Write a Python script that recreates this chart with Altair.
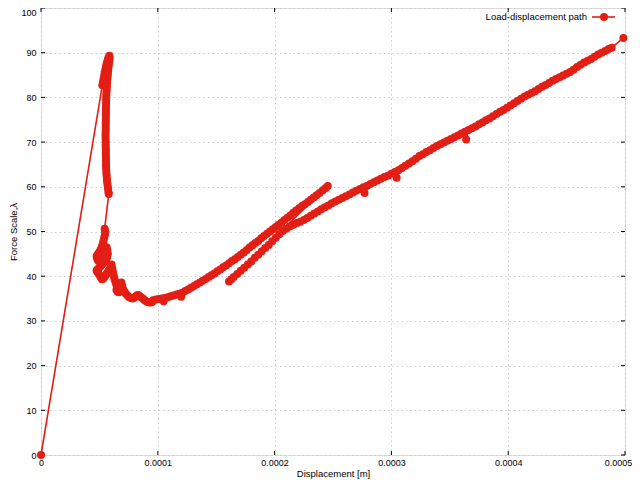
import altair as alt
import pandas as pd

# ---------------- data (displacement in micrometres, force scale) ----------------
x_ticks = [0, 0.0001, 0.0002, 0.0003, 0.0004, 0.0005]
y_ticks = [0, 10, 20, 30, 40, 50, 60, 70, 80, 90, 100]

origin_d = [0.0]
origin_f = [0.0]

column_d = [52.5, 53.0, 53.5, 54.0, 54.5, 55.0, 55.6, 56.2, 56.8, 57.4, 58.0, 58.6,
            58.8, 58.5, 58.2, 57.9, 57.6, 57.4, 57.2, 57.0, 56.8, 56.6, 56.4, 56.3,
            56.2, 56.0, 55.9, 55.8, 55.8, 55.7, 55.7, 55.6, 55.6, 55.5, 55.5, 55.5,
            55.4, 55.4, 55.4, 55.4, 55.3, 55.3, 55.3, 55.4, 55.4, 55.4, 55.5, 55.5,
            55.5, 55.6, 55.6, 55.7, 55.7, 55.8, 55.9, 56.0, 56.2, 56.4, 56.6, 56.9,
            57.2, 57.5, 57.8, 58.0]
column_f = [82.7, 83.4, 84.1, 84.8, 85.5, 86.2, 86.9, 87.5, 88.1, 88.6, 89.0, 89.3,
            88.8, 88.2, 87.6, 87.0, 86.4, 85.8, 85.2, 84.6, 84.0, 83.4, 82.8, 82.2,
            81.6, 81.0, 80.4, 79.8, 79.2, 78.6, 78.0, 77.4, 76.8, 76.2, 75.6, 75.0,
            74.4, 73.8, 73.2, 72.6, 72.0, 71.4, 70.8, 70.2, 69.6, 69.0, 68.4, 67.8,
            67.2, 66.6, 66.0, 65.4, 64.8, 64.2, 63.6, 63.0, 62.4, 61.8, 61.2, 60.6,
            60.0, 59.4, 58.8, 58.4]

cluster_d = [54.5, 55.0, 54.8, 54.3, 53.8, 53.2, 52.6, 52.0, 51.2, 50.4, 49.4, 48.4,
             47.6, 48.2, 49.2, 50.4, 51.6, 52.8, 54.0, 55.2, 56.2, 56.8, 57.2, 56.6,
             55.4, 54.0, 52.6, 51.2, 49.8, 48.4, 47.6, 48.6, 49.8, 51.0, 52.2, 53.4,
             54.6, 55.8, 57.0, 58.2, 59.4, 60.4, 61.0, 61.6, 62.2, 62.8, 63.6, 64.4,
             65.2, 64.6, 65.6, 66.8, 67.8, 68.6, 68.8, 69.6, 70.4, 71.6, 72.8, 74.2,
             75.6, 77.0, 78.4, 79.8, 81.2, 82.6, 83.8, 85.2, 86.6, 88.0, 89.4, 90.8,
             92.2, 93.6, 95.0]
cluster_f = [50.6, 50.0, 49.4, 48.8, 48.2, 47.6, 47.0, 46.5, 46.0, 45.6, 45.2, 44.8,
             44.4, 43.8, 43.4, 43.8, 44.3, 44.9, 45.5, 46.1, 46.5, 45.8, 45.0, 44.2,
             43.6, 43.1, 42.7, 42.3, 41.9, 41.5, 41.2, 40.8, 40.4, 39.8, 39.3, 39.5,
             39.9, 40.4, 40.9, 41.4, 42.0, 42.6, 41.8, 41.0, 40.2, 39.5, 38.8, 38.2,
             37.6, 36.9, 36.5, 36.4, 36.8, 37.6, 38.6, 37.8, 37.0, 36.5, 36.0, 35.6,
             35.3, 35.1, 35.0, 35.2, 35.5, 35.8, 35.7, 35.4, 35.1, 34.8, 34.5, 34.3,
             34.2, 34.1, 34.2]

upper_d = [96, 98.5, 101, 103.5, 105, 106, 108.5, 111, 113.5, 116, 118.5, 120, 121,
           123.5, 126, 128.5, 131, 133.5, 136, 138.5, 141, 143.5, 146, 148.5, 151,
           153.5, 156, 158.5, 161, 163.5, 166, 168.5, 171, 173.5, 176, 178.5, 181,
           183.5, 186, 188.5, 191, 193.5, 196, 198.5, 201, 203.5, 206, 208.5, 211,
           213.5, 216, 218.5, 221, 223.5, 226, 228.5, 231, 233.5, 236, 238.5, 241,
           243.5, 245.5]
upper_f = [34.6, 34.8, 34.9, 35.0, 34.4, 35.1, 35.3, 35.5, 35.7, 35.9, 36.1, 35.4,
           36.3, 36.7, 37.0, 37.4, 37.8, 38.2, 38.6, 39.0, 39.4, 39.8, 40.2, 40.6,
           41.1, 41.5, 42.0, 42.4, 42.9, 43.4, 43.8, 44.3, 44.8, 45.3, 45.8, 46.4,
           46.9, 47.4, 47.9, 48.5, 49.0, 49.5, 50.0, 50.5, 51.0, 51.5, 52.0, 52.6,
           53.1, 53.6, 54.2, 54.7, 55.2, 55.7, 56.1, 56.6, 57.1, 57.6, 58.1, 58.6,
           59.2, 59.7, 60.2]

lower_d = [161, 163, 165, 168, 171, 174, 177, 180, 183, 186, 189, 192, 195, 198, 201,
           204, 207, 210, 213, 216, 219, 222, 225, 228, 231, 234, 237, 240, 243, 246,
           249, 252, 255, 258, 261, 264, 267, 270, 273, 276, 277, 279, 282, 285, 288,
           291, 294, 297, 300, 303, 304.5, 306, 309, 312, 315, 318, 321, 324, 327,
           330, 333, 336, 339, 342, 345, 348, 351, 354, 357, 360, 363, 364, 366, 369,
           372, 375, 378, 381, 384, 387, 390, 393, 396, 399, 402, 405, 408, 411, 414,
           417, 420, 423, 426, 429, 432, 435, 438, 441, 444, 447, 450, 453, 456, 459,
           462, 465, 468, 471, 474, 477, 480, 483, 486, 488.6, 498.6]
lower_f = [38.8, 39.3, 39.8, 40.5, 41.2, 41.9, 42.6, 43.3, 44.1, 44.8, 45.6, 46.3,
           47.0, 47.8, 48.6, 49.4, 50.1, 50.6, 51.1, 51.5, 51.9, 52.2, 52.6, 53.0,
           53.5, 54.0, 54.5, 55.0, 55.4, 55.8, 56.3, 56.7, 57.1, 57.5, 57.9, 58.3,
           58.7, 59.1, 59.5, 59.9, 58.6, 60.2, 60.6, 61.0, 61.4, 61.8, 62.2, 62.5,
           62.9, 63.3, 62.0, 63.7, 64.2, 64.7, 65.2, 65.7, 66.3, 66.9, 67.3, 67.8,
           68.2, 68.7, 69.1, 69.5, 69.9, 70.3, 70.7, 71.1, 71.5, 71.9, 72.3, 70.6,
           72.7, 73.1, 73.5, 74.0, 74.4, 74.9, 75.3, 75.8, 76.3, 76.8, 77.2, 77.7,
           78.2, 78.7, 79.2, 79.7, 80.2, 80.6, 81.0, 81.4, 81.9, 82.4, 82.8, 83.2,
           83.7, 84.1, 84.5, 84.9, 85.3, 85.7, 86.2, 86.8, 87.3, 87.8, 88.2, 88.6,
           89.1, 89.6, 90.0, 90.4, 90.8, 91.1, 93.3]

legend_label = "Load-displacement path"
RED = "#e31e14"

# ---------------- build table ----------------
disp_um = origin_d + column_d + cluster_d + upper_d + lower_d
force = origin_f + column_f + cluster_f + upper_f + lower_f
df = pd.DataFrame({
    "step": list(range(len(disp_um))),
    "disp": [d * 1e-6 for d in disp_um],
    "force": force,
})
xt = pd.DataFrame({"v": x_ticks})
yt = pd.DataFrame({"v": y_ticks})

W, H = 584, 447
FONT = "Liberation Sans"
TL = 4  # tick length
GRID = "#cdcdcd"

xs = alt.Scale(domain=[0, 0.0005], nice=False, zero=False)
ys = alt.Scale(domain=[0, 100], nice=False, zero=False)

xaxis = alt.Axis(values=x_ticks, format="~g", title="Displacement [m]", grid=True,
                 ticks=False, domain=False, labelPadding=3, labelFontSize=9,
                 titleFontSize=9.5, titleFontWeight="normal", titlePadding=1,
                 labelFont=FONT, titleFont=FONT, labelColor="black", titleColor="black",
                 gridColor=GRID, gridDash=[1.5, 3], gridWidth=1, labelFlush=False,
                 labelOffset={"condition": {"test": "datum.value > 0.00049", "value": -7},
                              "value": 0})
yaxis = alt.Axis(values=y_ticks, title="Force Scale,λ", grid=True, ticks=False,
                 domain=False, labelPadding=5, labelFontSize=9, titleFontSize=9.5,
                 titleFontWeight="normal", labelFont=FONT, titleFont=FONT,
                 labelColor="black", titleColor="black", gridColor=GRID,
                 gridDash=[1.5, 3], gridWidth=1, titleX=-33, titleBaseline="top",
                 labelFlush=False,
                 labelOffset={"condition": {"test": "datum.value > 99", "value": 4},
                              "value": 0})

base = alt.Chart(df)
path_line = base.mark_line(color=RED, strokeWidth=1.6).encode(
    x=alt.X("disp:Q", scale=xs, axis=xaxis),
    y=alt.Y("force:Q", scale=ys, axis=yaxis),
    order="step:Q",
)
path_pts = base.mark_circle(color=RED, size=64, opacity=1).encode(
    x=alt.X("disp:Q", scale=xs),
    y=alt.Y("force:Q", scale=ys),
)

tick_style = dict(color="black", strokeWidth=1)
xt_bottom = alt.Chart(xt).mark_rule(**tick_style).encode(
    x=alt.X("v:Q", scale=xs), y=alt.value(H), y2=alt.value(H - TL))
xt_top = alt.Chart(xt).mark_rule(**tick_style).encode(
    x=alt.X("v:Q", scale=xs), y=alt.value(0), y2=alt.value(TL))
yt_left = alt.Chart(yt).mark_rule(**tick_style).encode(
    y=alt.Y("v:Q", scale=ys), x=alt.value(0), x2=alt.value(TL))
yt_right = alt.Chart(yt).mark_rule(**tick_style).encode(
    y=alt.Y("v:Q", scale=ys), x=alt.value(W), x2=alt.value(W - TL))

leg_df = pd.DataFrame({"label": [legend_label]})
leg_text = alt.Chart(leg_df).mark_text(align="right", baseline="middle", fontSize=9.5,
                                       font=FONT, color="black").encode(
    text="label:N", x=alt.value(W - 38), y=alt.value(9))
leg_line = alt.Chart(leg_df).mark_rule(color=RED, strokeWidth=1.6).encode(
    x=alt.value(W - 33), x2=alt.value(W - 10), y=alt.value(9))
leg_pt = alt.Chart(leg_df).mark_circle(color=RED, size=64, opacity=1).encode(
    x=alt.value(W - 21), y=alt.value(9))

chart = alt.layer(
    path_line, xt_bottom, xt_top, yt_left, yt_right, path_pts,
    leg_text, leg_line, leg_pt,
).properties(
    width=W, height=H,
    autosize=alt.AutoSizeParams(type="none"),
    padding={"left": 33, "top": 0, "right": 7, "bottom": 25},
).configure_view(
    stroke="#1a1a1a", strokeWidth=1.5,
).configure(background="white")

chart.save("out.html", embed_options={"renderer": "svg", "actions": False})
